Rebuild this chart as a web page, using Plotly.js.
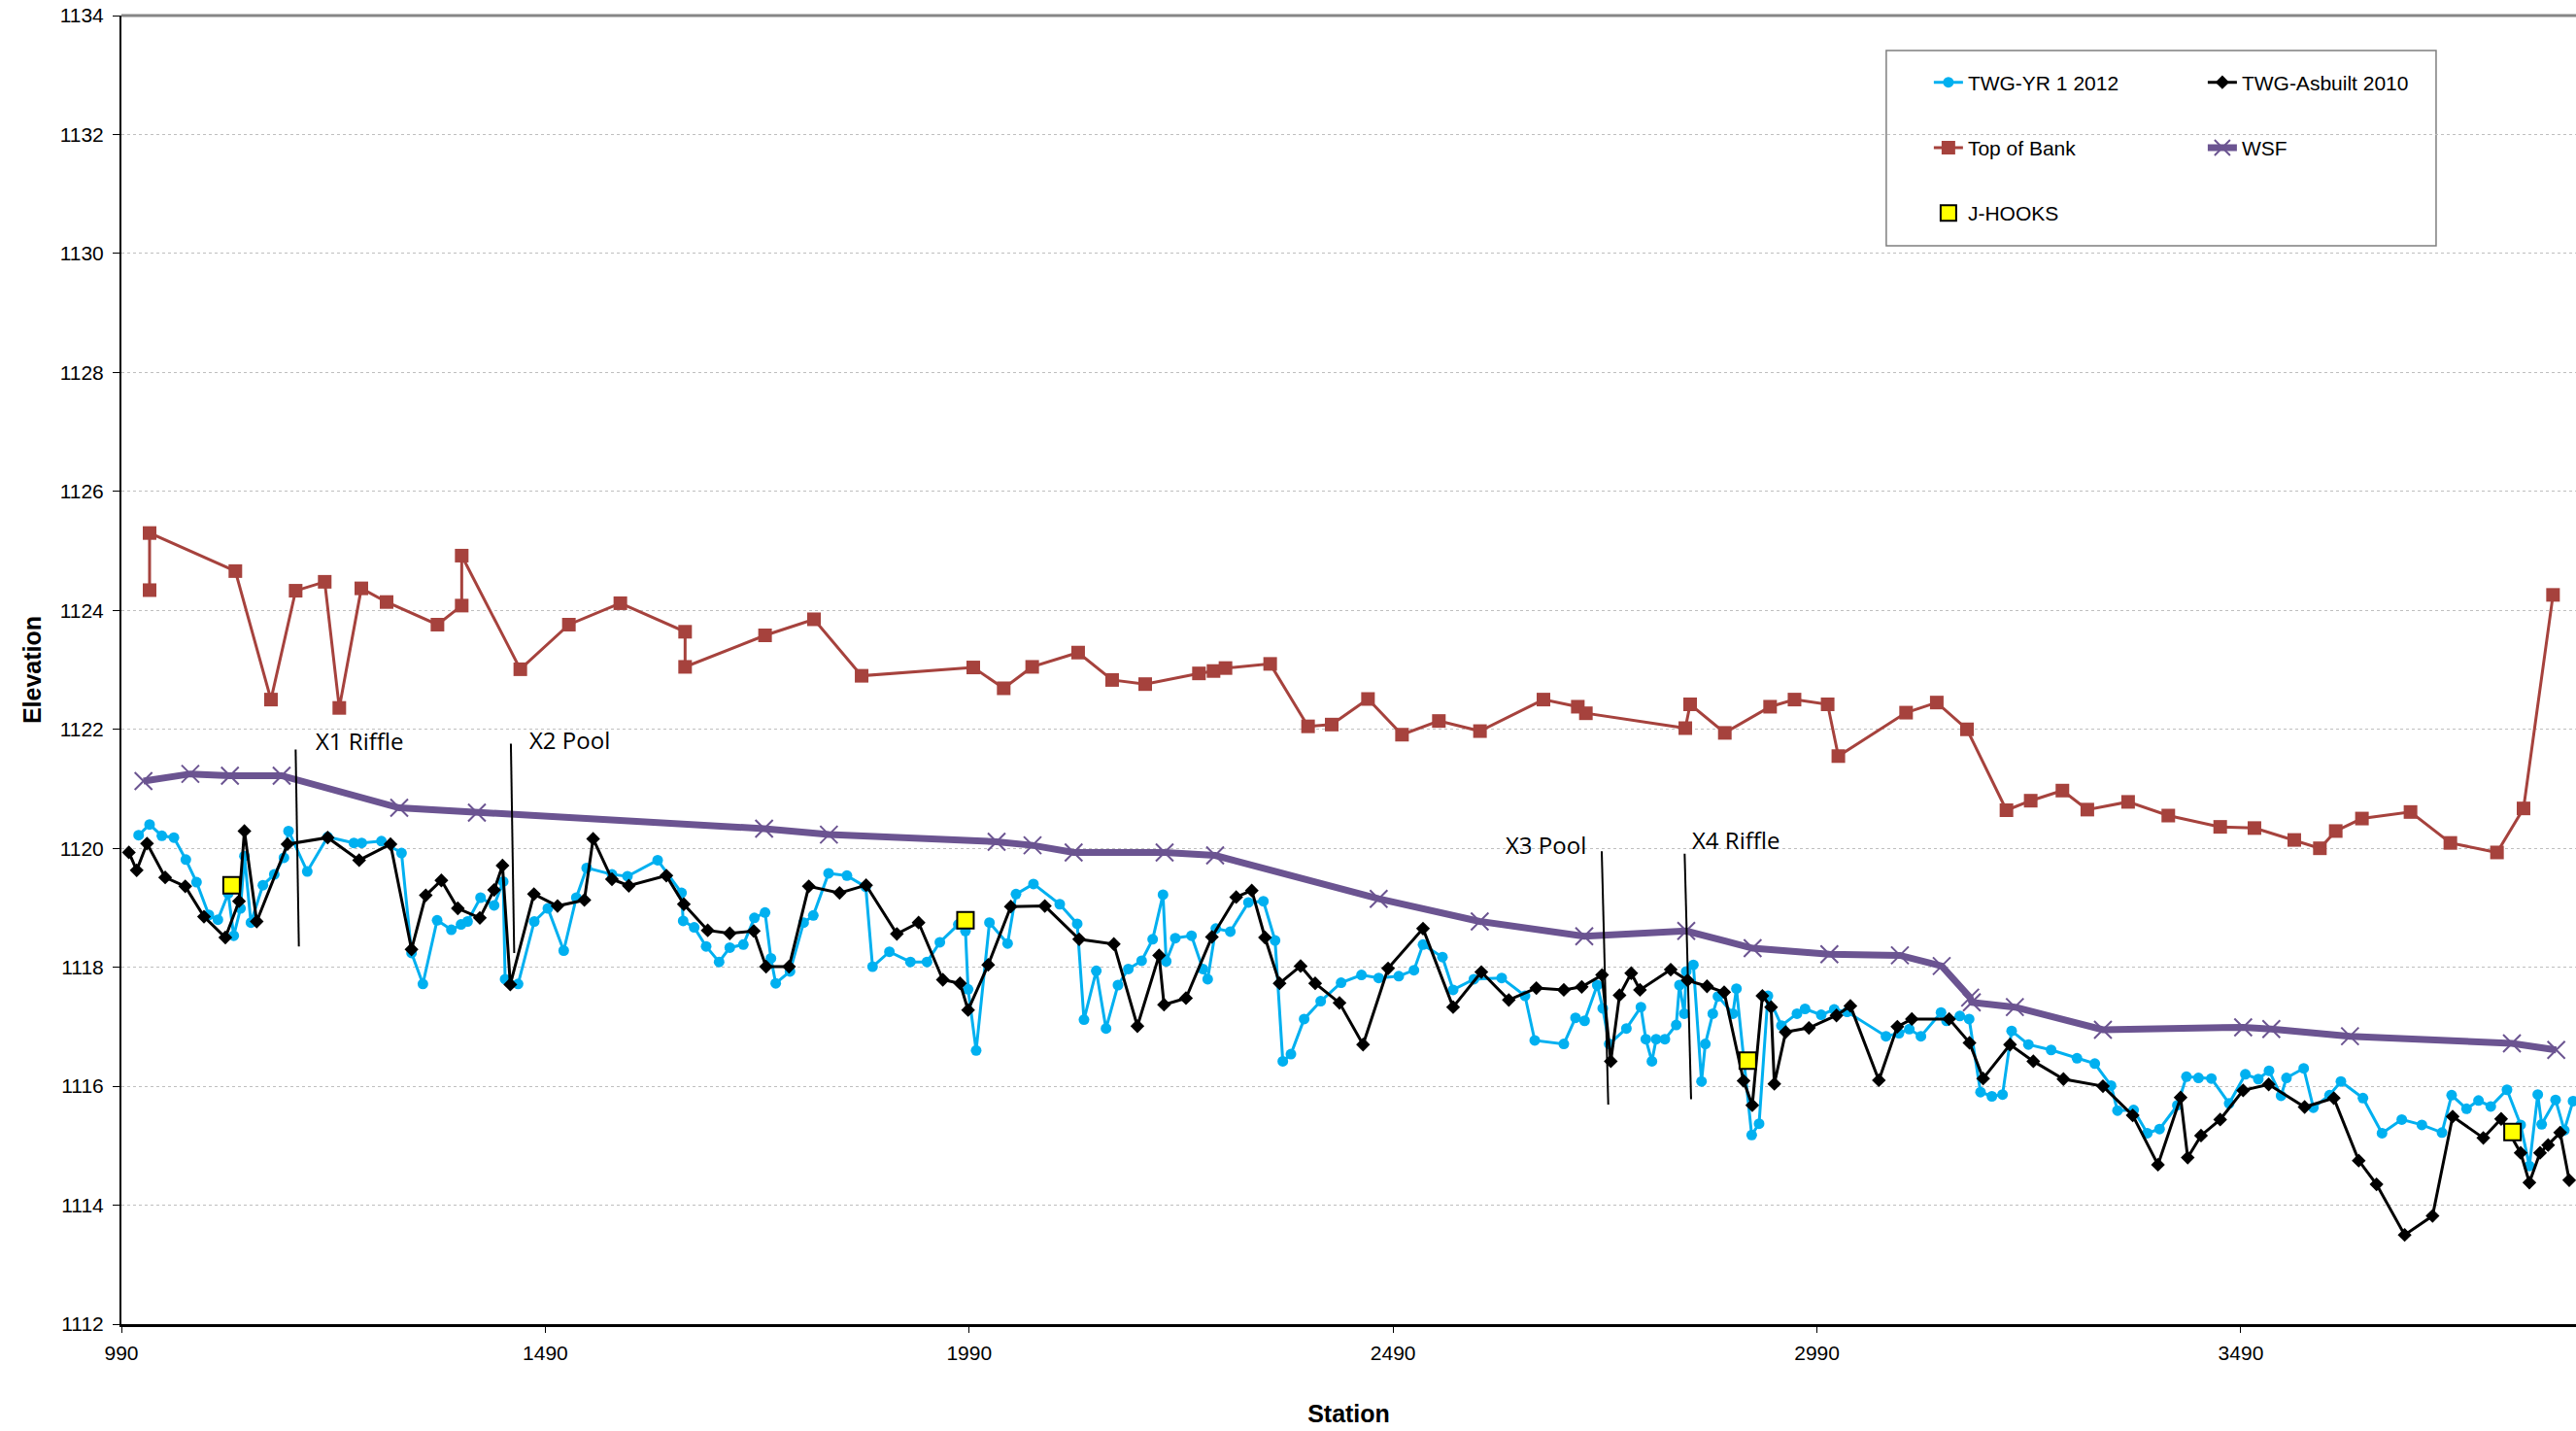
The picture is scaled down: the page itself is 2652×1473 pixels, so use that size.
<!DOCTYPE html>
<html>
<head>
<meta charset="utf-8">
<script src="https://cdn.plot.ly/plotly-3.0.1.min.js"></script>
<style>
  html, body { margin: 0; padding: 0; background: #ffffff; }
  #chart { width: 2652px; height: 1473px; }
</style>
</head>
<body>
<div id="chart"></div>
<script>
// ---------- DATA (station, elevation) ----------
const twgYr2012 = [
  [1010.3,1120.22],[1023.2,1120.40],[1037.7,1120.21],[1051.9,1120.18],[1066.0,1119.81],[1078.6,1119.43],
  [1093.1,1118.88],[1103.8,1118.80],[1116.0,1119.24],[1122.5,1118.53],[1130.5,1118.99],[1135.1,1119.87],
  [1142.8,1118.75],[1156.9,1119.38],[1170.3,1119.56],[1181.7,1119.84],[1187.1,1120.29],[1209.2,1119.61],
  [1233.3,1120.19],[1264.2,1120.09],[1273.4,1120.09],[1296.7,1120.12],[1320.4,1119.92],[1332.2,1118.24],
  [1345.6,1117.72],[1362.4,1118.79],[1379.2,1118.63],[1390.6,1118.72],[1398.3,1118.77],[1413.6,1119.17],
  [1429.6,1119.04],[1440.3,1119.44],[1442.6,1117.80],[1457.9,1117.72],[1477.0,1118.77],
  [1493.0,1118.99],[1511.7,1118.28],[1526.6,1119.17],[1538.8,1119.67],[1568.6,1119.56],[1586.9,1119.53],
  [1622.5,1119.80],[1650.7,1119.25],[1652.6,1118.78],[1665.6,1118.67],[1679.7,1118.35],[1695.0,1118.09],
  [1707.6,1118.33],[1723.6,1118.38],[1736.6,1118.83],[1749.2,1118.92],[1756.1,1118.15],[1761.8,1117.73],
  [1778.6,1117.93],[1794.7,1118.75],[1806.1,1118.87],[1824.1,1119.58],[1845.8,1119.54],[1868.0,1119.35],
  [1876.0,1118.01],[1895.9,1118.26],[1920.7,1118.09],[1940.2,1118.09],[1955.4,1118.42],[1977.2,1118.72],
  [1985.6,1118.61],[1988.7,1117.63],[1998.2,1116.60],[2013.9,1118.75],[2035.3,1118.40],[2045.2,1119.23],
  [2065.8,1119.40],[2096.8,1119.06],[2117.4,1118.73],[2125.4,1117.12],[2139.9,1117.94],[2151.4,1116.97],
  [2165.5,1117.70],[2177.7,1117.97],[2193.4,1118.11],[2206.4,1118.47],[2218.6,1119.22],[2222.4,1118.10],
  [2233.1,1118.49],[2252.2,1118.53],[2265.6,1117.97],[2271.3,1117.80],[2280.9,1118.65],[2298.0,1118.60],
  [2319.4,1119.09],[2337.0,1119.11],[2350.8,1118.45],[2359.9,1116.42],[2369.5,1116.54],[2385.1,1117.13],
  [2404.6,1117.43],[2428.7,1117.74],[2452.7,1117.87],[2473.0,1117.82],
  [2496.7,1117.85],[2514.6,1117.95],[2525.3,1118.38],[2548.2,1118.17],[2560.8,1117.62],[2585.3,1117.80],
  [2618.1,1117.82],[2645.6,1117.52],[2657.1,1116.77],[2691.4,1116.71],[2705.2,1117.15],[2715.9,1117.10],
  [2730.8,1117.70],[2737.3,1117.31],[2744.9,1116.71],[2765.2,1116.97],[2782.3,1117.33],[2788.1,1116.79],
  [2795.3,1116.42],[2800.3,1116.79],[2810.6,1116.79],[2824.0,1117.03],[2827.8,1117.70],[2833.5,1117.22],
  [2835.8,1117.93],[2844.2,1118.04],[2853.8,1116.08],[2858.3,1116.71],[2867.1,1117.22],[2873.2,1117.51],
  [2890.8,1117.22],[2895.0,1117.64],[2913.0,1115.18],[2921.7,1115.37],[2932.1,1117.52],[2948.1,1117.02],
  [2966.4,1117.22],
  [2975.9,1117.30],[2995.0,1117.20],[3010.3,1117.29],[3025.6,1117.25],[3071.4,1116.84],[3086.7,1116.89],
  [3098.9,1116.96],[3112.6,1116.84],[3136.3,1117.24],[3142.8,1117.10],[3158.5,1117.18],[3169.5,1117.13],
  [3182.9,1115.90],[3196.3,1115.83],[3208.9,1115.86],[3219.6,1116.93],[3239.4,1116.70],[3266.2,1116.61],
  [3296.7,1116.47],[3317.7,1116.38],[3336.8,1116.01],[3344.5,1115.59],[3363.5,1115.60],[3379.6,1115.21],
  [3394.1,1115.28],[3415.1,1115.68],[3425.8,1116.16],[3440.0,1116.14],[3455.2,1116.13],
  [3476.2,1115.71],[3495.3,1116.20],[3510.6,1116.12],[3523.2,1116.26],[3537.4,1115.84],[3543.8,1116.14],
  [3564.1,1116.30],[3575.5,1115.64],[3594.6,1115.85],[3608.0,1116.08],[3634.0,1115.80],[3656.5,1115.21],
  [3679.8,1115.44],[3703.5,1115.35],[3727.2,1115.22],[3738.6,1115.85],[3756.2,1115.62],[3770.3,1115.76],
  [3784.8,1115.66],[3803.9,1115.94],[3820.0,1115.35],[3830.3,1114.66],[3840.2,1115.86],[3844.8,1115.36],
  [3861.2,1115.77],[3871.5,1115.26],[3881.8,1115.75]
];

const twgAsbuilt2010 = [
  [998.8,1119.93],[1008.0,1119.63],[1020.2,1120.08],[1041.6,1119.51],[1065.3,1119.36],[1087.4,1118.85],
  [1112.6,1118.50],[1128.7,1119.11],[1135.1,1120.29],[1149.6,1118.77],[1185.9,1120.07],[1233.3,1120.18],
  [1270.4,1119.80],[1307.4,1120.07],[1332.2,1118.30],[1349.0,1119.21],[1367.4,1119.46],[1386.8,1118.99],
  [1412.8,1118.83],[1429.6,1119.30],[1439.5,1119.71],[1448.7,1117.71],[1476.6,1119.23],
  [1504.4,1119.03],[1536.1,1119.13],[1546.4,1120.16],[1568.6,1119.48],[1588.5,1119.37],[1632.8,1119.54],
  [1653.4,1119.06],[1681.6,1118.62],[1707.6,1118.57],[1735.9,1118.61],[1750.4,1118.01],[1777.5,1118.01],
  [1800.8,1119.36],[1837.1,1119.25],[1868.4,1119.38],[1904.7,1118.56],[1930.3,1118.75],[1958.9,1117.79],
  [1979.2,1117.73],
  [1988.7,1117.28],[2012.4,1118.04],[2039.1,1119.02],[2079.2,1119.03],[2119.7,1118.47],[2160.6,1118.39],
  [2188.4,1117.01],[2214.0,1118.20],[2219.8,1117.37],[2245.7,1117.48],[2276.3,1118.51],[2304.9,1119.18],
  [2323.3,1119.29],[2338.9,1118.50],[2356.1,1117.73],[2380.9,1118.02],[2398.1,1117.73],[2426.8,1117.40],
  [2454.6,1116.70],
  [2484.1,1117.98],[2525.3,1118.65],[2560.8,1117.33],[2594.1,1117.92],[2626.5,1117.45],[2659.0,1117.65],
  [2691.4,1117.62],[2712.5,1117.67],[2736.5,1117.87],[2746.8,1116.42],[2757.1,1117.53],[2770.9,1117.90],
  [2781.2,1117.62],[2817.5,1117.96],[2837.3,1117.78],[2860.3,1117.68],[2880.5,1117.58],[2903.4,1116.09],
  [2913.7,1115.68],[2925.6,1117.52],[2935.9,1117.33],[2939.7,1116.04],[2953.1,1116.91],
  [2980.5,1116.98],[3013.0,1117.19],[3029.4,1117.35],[3063.0,1116.10],[3084.8,1117.00],[3101.9,1117.13],
  [3145.9,1117.13],[3169.9,1116.73],[3186.0,1116.13],[3217.7,1116.70],[3245.2,1116.42],[3280.7,1116.12],
  [3327.3,1116.00],[3362.4,1115.51],[3392.2,1114.68],[3418.9,1115.81],[3427.3,1114.80],[3443.0,1115.17],
  [3465.6,1115.44],[3492.7,1115.93],[3522.8,1116.03],[3565.2,1115.65],[3599.6,1115.80],[3629.0,1114.75],
  [3650.0,1114.35],[3683.2,1113.50],[3716.1,1113.82],[3739.8,1115.49],[3776.0,1115.13],[3797.0,1115.45],
  [3820.0,1114.88],[3830.3,1114.38],[3842.9,1114.88],[3852.4,1115.01],[3866.6,1115.22],[3877.3,1114.42]
];

const topOfBank = [
  [1023.2,1124.34],[1023.2,1125.30],[1124.4,1124.66],[1166.4,1122.50],[1195.5,1124.33],[1229.8,1124.48],
  [1247.0,1122.36],[1273.0,1124.37],[1302.8,1124.14],[1362.8,1123.76],[1391.4,1124.08],[1391.4,1124.92],
  [1460.5,1123.01],[1517.8,1123.76],[1578.5,1124.12],[1654.9,1123.64],[1654.9,1123.05],[1749.2,1123.58],
  [1806.9,1123.85],[1863.1,1122.90],[1994.8,1123.04],[2030.7,1122.69],[2064.3,1123.05],[2118.5,1123.29],
  [2158.6,1122.83],[2197.6,1122.76],[2261.0,1122.94],[2278.2,1122.98],[2292.3,1123.03],[2345.0,1123.10],
  [2389.7,1122.05],[2417.6,1122.08],[2460.4,1122.51],[2500.5,1121.91],[2544.0,1122.14],[2592.5,1121.97],
  [2667.4,1122.50],[2707.9,1122.38],[2717.4,1122.27],[2834.7,1122.02],[2840.4,1122.42],[2881.3,1121.94],
  [2934.7,1122.38],[2963.5,1122.50],[3002.6,1122.42],[3015.2,1121.55],[3095.1,1122.28],[3131.3,1122.45],
  [3166.9,1122.00],[3213.5,1120.64],[3242.1,1120.80],[3279.5,1120.97],[3308.9,1120.65],[3357.0,1120.78],
  [3404.4,1120.55],[3465.6,1120.36],[3506.0,1120.34],[3553.0,1120.14],[3583.2,1120.00],[3601.9,1120.29],
  [3632.8,1120.50],[3690.1,1120.61],[3737.1,1120.09],[3792.1,1119.93],[3823.4,1120.67],[3858.2,1124.26]
];

const wsf = [
  [1016.0,1121.13],[1071.3,1121.25],[1118.0,1121.22],[1179.0,1121.22],[1317.7,1120.68],[1409.3,1120.60],
  [1748.1,1120.33],[1824.5,1120.23],[2022.3,1120.11],[2064.7,1120.05],[2113.2,1119.93],[2220.5,1119.93],
  [2280.1,1119.88],[2473.0,1119.15],[2592.2,1118.77],[2715.5,1118.52],[2835.8,1118.61],[2914.1,1118.32],
  [3004.6,1118.22],[3087.8,1118.20],[3137.1,1118.02],[3170.7,1117.49],[3172.6,1117.41],[3223.4,1117.33],
  [3327.3,1116.95],[3492.7,1116.99],[3525.9,1116.96],[3618.7,1116.84],[3809.7,1116.72],[3862.0,1116.61]
];

const jHooks = [[1119.9,1119.38],[1985.6,1118.79],[2908.4,1116.43],[3810.4,1115.23]];

// cross-section markers: label, label station/elev, line top and bottom (station, elev)
const xsLabels = ['X1 Riffle','X2 Pool','X3 Pool','X4 Riffle'];
const xsLabelAt = [[1217.2,1121.80],[1468.5,1121.83],[2620.7,1120.06],[2840.4,1120.15]];
const xsLineTop = [[1195.5,1121.66],[1449.4,1121.76],[2736.1,1119.95],[2833.9,1119.91]];
const xsLineBottom = [[1199.3,1118.35],[1453.3,1118.24],[2743.8,1115.69],[2841.5,1115.78]];

const xTicks = [990,1490,1990,2490,2990,3490];
const yTicks = [1112,1114,1116,1118,1120,1122,1124,1126,1128,1130,1132,1134];

// ---------- STYLE ----------
const FONT = 'Arial, "Liberation Sans", sans-serif';
const cyan = '#00B0F0', tobColor = '#A6423D', wsfColor = '#6B5491';

const xs = a => a.map(p => p[0]);
const ys = a => a.map(p => p[1]);

const traces = [
  { name:'Top of Bank', x:xs(topOfBank), y:ys(topOfBank), mode:'lines+markers', type:'scatter',
    line:{color:tobColor,width:3}, marker:{symbol:'square',size:14,color:tobColor},
    legend:'legend', legendgroup:'g3', legendrank:2 },
  { name:'WSF', x:xs(wsf), y:ys(wsf), mode:'lines+markers', type:'scatter',
    line:{color:wsfColor,width:7}, marker:{symbol:'x-thin',size:18,color:wsfColor,line:{color:wsfColor,width:2}},
    legend:'legend2', legendgroup:'g4', legendrank:2 },
  { name:'TWG-YR 1 2012', x:xs(twgYr2012), y:ys(twgYr2012), mode:'lines+markers', type:'scatter',
    line:{color:cyan,width:3}, marker:{symbol:'circle',size:11,color:cyan},
    legend:'legend', legendgroup:'g1', legendrank:1 },
  { name:'TWG-Asbuilt 2010', x:xs(twgAsbuilt2010), y:ys(twgAsbuilt2010), mode:'lines+markers', type:'scatter',
    line:{color:'#000000',width:3}, marker:{symbol:'diamond',size:11,color:'#000000'},
    legend:'legend2', legendgroup:'g2', legendrank:1 },
  { name:'J-HOOKS', x:xs(jHooks), y:ys(jHooks), mode:'markers', type:'scatter',
    marker:{symbol:'square',size:17,color:'#FFFF00',line:{color:'#000000',width:2}},
    legend:'legend', legendgroup:'g5', legendrank:3 }
];

const shapes = xsLineTop.map((t,i) => ({
  type:'line', xref:'x', yref:'y', x0:t[0], y0:t[1], x1:xsLineBottom[i][0], y1:xsLineBottom[i][1],
  line:{color:'#000000', width:2}
}));
// top border of plot area
shapes.push({type:'line', xref:'paper', yref:'paper', x0:0, x1:1, y0:1, y1:1, line:{color:'#868686', width:3}});
// legend frame
shapes.push({type:'rect', xref:'paper', yref:'paper', x0:0.7190, x1:0.9430, y0:0.8241, y1:0.9733,
  line:{color:'#7f7f7f', width:1.5}, fillcolor:'rgba(255,255,255,1)', layer:'below'});

const annotations = xsLabels.map((t,i) => ({
  text:t, x:xsLabelAt[i][0], y:xsLabelAt[i][1], xref:'x', yref:'y', xanchor:'left', yanchor:'middle',
  showarrow:false, font:{family:'"Open Sans", sans-serif', size:24, color:'#000000'}
}));

const legendCommon = {
  orientation:'v', bgcolor:'rgba(0,0,0,0)', borderwidth:0, tracegroupgap:37,
  font:{family:FONT, size:21, color:'#000000'}, xanchor:'left', yanchor:'top', y:0.9640
};

const layout = {
  width:2652, height:1473,
  margin:{l:125, r:0, t:16, b:110, pad:0},
  paper_bgcolor:'#ffffff', plot_bgcolor:'#ffffff',
  showlegend:true,
  legend:Object.assign({}, legendCommon, {x:0.7364}),
  legend2:Object.assign({}, legendCommon, {x:0.8480}),
  xaxis:{
    range:[990, 3885.3], tickvals:xTicks, ticktext:xTicks.map(String),
    showgrid:false, zeroline:false, showline:true, linecolor:'#000000', linewidth:3,
    ticks:'outside', ticklen:6, tickwidth:1, tickcolor:'#000000', ticklabelstandoff:3,
    tickfont:{family:FONT, size:21, color:'#000000'},
    title:{text:'Station', standoff:44, font:{family:FONT, size:25, color:'#000000', weight:'bold'}}
  },
  yaxis:{
    range:[1112, 1134], tickvals:yTicks, ticktext:yTicks.map(String),
    showgrid:true, gridcolor:'#bfbfbf', gridwidth:1, griddash:'dot',
    zeroline:false, showline:true, linecolor:'#000000', linewidth:2,
    ticks:'outside', ticklen:7, tickwidth:1, tickcolor:'#000000', ticklabelstandoff:5,
    tickfont:{family:FONT, size:21, color:'#000000'},
    title:{text:'Elevation', standoff:12, font:{family:FONT, size:25, color:'#000000', weight:'bold'}}
  },
  shapes:shapes,
  annotations:annotations
};

Plotly.newPlot('chart', traces, layout, {staticPlot:true, displayModeBar:false});
</script>
</body>
</html>
